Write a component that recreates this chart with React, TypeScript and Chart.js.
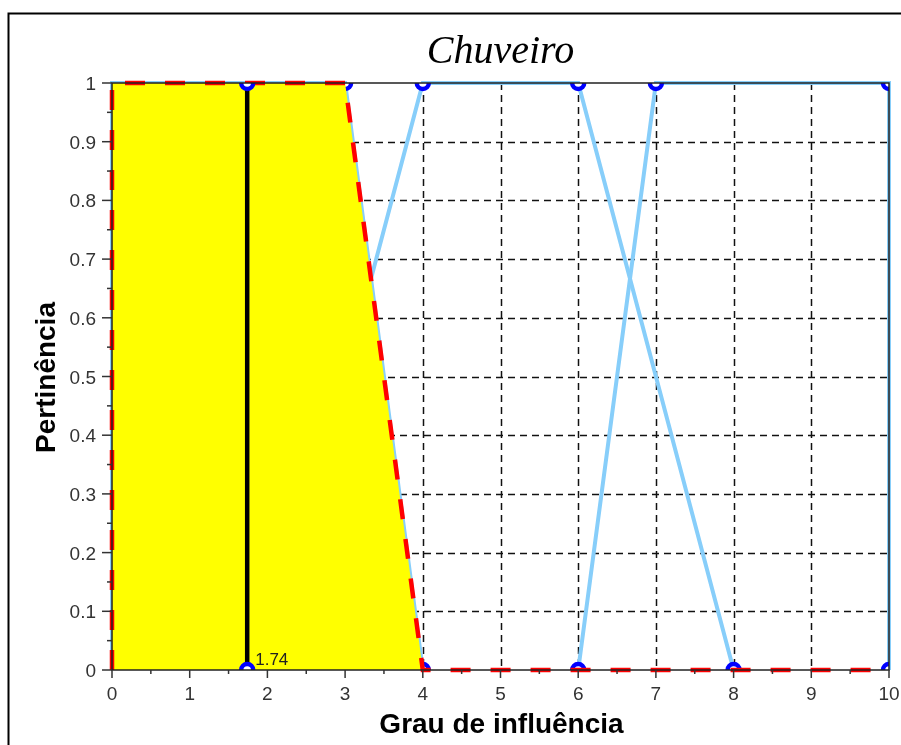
import React, { useEffect, useRef } from 'react';
import { Chart, registerables } from 'chart.js';

Chart.register(...registerables);

// ---- Data ----
const titleText = 'Chuveiro';
const xTitle = 'Grau de influência';
const yTitle = 'Pertinência';

const xTickValues = [0, 1, 2, 3, 4, 5, 6, 7, 8, 9, 10];
const xTickLabels = ['0', '1', '2', '3', '4', '5', '6', '7', '8', '9', '10'];
const yTickValues = [0, 0.1, 0.2, 0.3, 0.4, 0.5, 0.6, 0.7, 0.8, 0.9, 1];
const yTickLabels = ['0', '0.1', '0.2', '0.3', '0.4', '0.5', '0.6', '0.7', '0.8', '0.9', '1'];

// membership functions
const mf1X = [0, 0, 3, 4];
const mf1Y = [0, 1, 1, 0];
const mf2X = [2, 4, 6, 8];
const mf2Y = [0, 1, 1, 0];
const mf3X = [6, 7, 10, 10];
const mf3Y = [0, 1, 1, 0];

// aggregated output (red dashed, yellow area)
const aggX = [0, 0, 3, 4, 10];
const aggY = [0, 1, 1, 0, 0];

// centroid line
const centroidX = [1.74, 1.74];
const centroidY = [0, 1];
const centroidLabel = '1.74';

const toPts = (xs: number[], ys: number[]) => xs.map((x, i) => ({ x, y: ys[i] }));

const BLUE_LINE = 'rgb(135,206,250)';
const SANS = '"Liberation Sans", Arial, Helvetica, sans-serif';
const NO_CLIP_PAD = { left: 0, top: 0, right: 0, bottom: 0 };

const decorPlugin = {
  id: 'decor',
  beforeDraw(chart: any) {
    const ctx = chart.ctx;
    ctx.save();
    ctx.strokeStyle = '#000';
    ctx.lineWidth = 2;
    ctx.beginPath();
    ctx.moveTo(8.5, 745);
    ctx.lineTo(8.5, 13.5);
    ctx.lineTo(901, 13.5);
    ctx.stroke();
    ctx.restore();
  },
  beforeDatasetsDraw(chart: any) {
    const ctx = chart.ctx;
    const a = chart.chartArea;
    const xs = chart.scales.x;
    const ys = chart.scales.y;
    ctx.save();
    ctx.strokeStyle = '#111';
    ctx.lineWidth = 1.5;
    ctx.setLineDash([7, 5]);
    xTickValues.forEach((v) => {
      if (v === xs.min || v === xs.max) return;
      const px = Math.round(xs.getPixelForValue(v)) + 0.5;
      ctx.beginPath();
      ctx.moveTo(px, a.top);
      ctx.lineTo(px, a.bottom);
      ctx.stroke();
    });
    yTickValues.forEach((v) => {
      if (v === ys.min || v === ys.max) return;
      const py = Math.round(ys.getPixelForValue(v)) + 0.5;
      ctx.beginPath();
      ctx.moveTo(a.left, py);
      ctx.lineTo(a.right, py);
      ctx.stroke();
    });
    ctx.restore();
  },
  afterDatasetsDraw(chart: any) {
    const ctx = chart.ctx;
    const a = chart.chartArea;
    const xs = chart.scales.x;
    const ys = chart.scales.y;
    ctx.save();
    // axes box
    ctx.strokeStyle = '#222';
    ctx.lineWidth = 1.5;
    ctx.setLineDash([]);
    ctx.strokeRect(a.left, a.top, a.right - a.left, a.bottom - a.top);

    // tick marks
    ctx.strokeStyle = '#333';
    ctx.lineWidth = 1.5;
    xTickValues.forEach((v, i) => {
      const px = xs.getPixelForValue(v);
      ctx.beginPath();
      ctx.moveTo(px, a.bottom);
      ctx.lineTo(px, a.bottom + 8);
      ctx.stroke();
      if (i < xTickValues.length - 1) {
        const mx = xs.getPixelForValue((v + xTickValues[i + 1]) / 2);
        ctx.beginPath();
        ctx.moveTo(mx, a.bottom);
        ctx.lineTo(mx, a.bottom + 4);
        ctx.stroke();
      }
    });
    yTickValues.forEach((v, i) => {
      const py = ys.getPixelForValue(v);
      ctx.beginPath();
      ctx.moveTo(a.left, py);
      ctx.lineTo(a.left - 10, py);
      ctx.stroke();
      if (i < yTickValues.length - 1) {
        const my = ys.getPixelForValue((v + yTickValues[i + 1]) / 2);
        ctx.beginPath();
        ctx.moveTo(a.left, my);
        ctx.lineTo(a.left - 5, my);
        ctx.stroke();
      }
    });

    // tick labels
    ctx.fillStyle = '#333';
    ctx.font = `19px ${SANS}`;
    ctx.textAlign = 'center';
    ctx.textBaseline = 'alphabetic';
    xTickValues.forEach((v, i) => {
      ctx.fillText(xTickLabels[i], xs.getPixelForValue(v), a.bottom + 30);
    });
    ctx.textAlign = 'right';
    yTickValues.forEach((v, i) => {
      ctx.fillText(yTickLabels[i], a.left - 16, ys.getPixelForValue(v) + 7);
    });

    // centroid label
    ctx.fillStyle = '#222';
    ctx.font = `17px ${SANS}`;
    ctx.textAlign = 'left';
    ctx.fillText(centroidLabel, xs.getPixelForValue(centroidX[0]) + 8, ys.getPixelForValue(0) - 5);

    // title
    ctx.fillStyle = '#000';
    ctx.font = `italic 40px "Liberation Serif", "Times New Roman", serif`;
    ctx.textAlign = 'center';
    ctx.fillText(titleText, (a.left + a.right) / 2, 63);

    // axis titles
    ctx.font = `bold 28px ${SANS}`;
    ctx.fillStyle = '#000';
    ctx.fillText(xTitle, (a.left + a.right) / 2 + 1, 733);
    ctx.save();
    ctx.translate(55, (a.top + a.bottom) / 2 + 1);
    ctx.rotate(-Math.PI / 2);
    ctx.fillText(yTitle, 0, 0);
    ctx.restore();

    ctx.restore();
  },
};

export default function App() {
  const ref = useRef<HTMLCanvasElement | null>(null);

  useEffect(() => {
    if (!ref.current) return;
    const lineDs = (xs: number[], ys: number[], order: number) => ({
      data: toPts(xs, ys),
      borderColor: BLUE_LINE,
      borderWidth: 4,
      pointRadius: 0,
      fill: false,
      showLine: true,
      clip: 4,
      order,
    });
    const markerDs = (xs: number[], ys: number[], order: number) => ({
      data: toPts(xs, ys),
      showLine: false,
      pointRadius: 6,
      pointBorderWidth: 4.5,
      pointBorderColor: '#0000ff',
      pointBackgroundColor: '#ffffff',
      clip: NO_CLIP_PAD,
      order,
    });

    const chart = new Chart(ref.current, {
      type: 'scatter',
      data: {
        datasets: [
          lineDs(mf1X, mf1Y, 20) as any,
          lineDs(mf2X, mf2Y, 20) as any,
          lineDs(mf3X, mf3Y, 20) as any,
          markerDs(mf1X, mf1Y, 15) as any,
          markerDs(mf2X, mf2Y, 15) as any,
          markerDs(mf3X, mf3Y, 15) as any,
          {
            data: toPts(aggX, aggY),
            showLine: true,
            borderWidth: 0,
            borderColor: 'rgba(0,0,0,0)',
            backgroundColor: '#ffff00',
            fill: 'origin',
            pointRadius: 0,
            clip: NO_CLIP_PAD,
            order: 10,
          } as any,
          {
            data: toPts(aggX, aggY),
            showLine: true,
            borderWidth: 4.5,
            borderColor: '#ff0000',
            borderDash: [20, 20],
            borderDashOffset: 0,
            fill: false,
            pointRadius: 0,
            clip: 4,
            order: 5,
          } as any,
          {
            data: toPts(centroidX, centroidY),
            showLine: true,
            borderWidth: 4.5,
            borderColor: '#000000',
            fill: false,
            pointRadius: 0,
            clip: NO_CLIP_PAD,
            order: 3,
          } as any,
          markerDs(centroidX, centroidY, 1) as any,
        ],
      },
      options: {
        animation: false,
        responsive: false,
        devicePixelRatio: 1,
        events: [],
        layout: {
          autoPadding: false,
          padding: { left: 0, top: 83, right: 12, bottom: 0 },
        },
        plugins: {
          legend: { display: false },
          tooltip: { enabled: false },
          title: { display: false },
        },
        scales: {
          x: {
            type: 'linear',
            min: 0,
            max: 10,
            ticks: { display: false, stepSize: 1 },
            grid: { display: false },
            border: { display: false },
            afterFit: (s: any) => {
              s.height = 75;
            },
          },
          y: {
            type: 'linear',
            min: 0,
            max: 1,
            ticks: { display: false, stepSize: 0.1 },
            grid: { display: false },
            border: { display: false },
            afterFit: (s: any) => {
              s.width = 112;
            },
          },
        },
      } as any,
      plugins: [decorPlugin],
    });
    return () => chart.destroy();
  }, []);

  return (
    <div style={{ position: 'absolute', left: 0, top: 0, width: 901, height: 745, overflow: 'hidden', background: '#fff' }}>
      <canvas ref={ref} width={901} height={745} style={{ display: 'block', width: 901, height: 745 }} />
    </div>
  );
}
